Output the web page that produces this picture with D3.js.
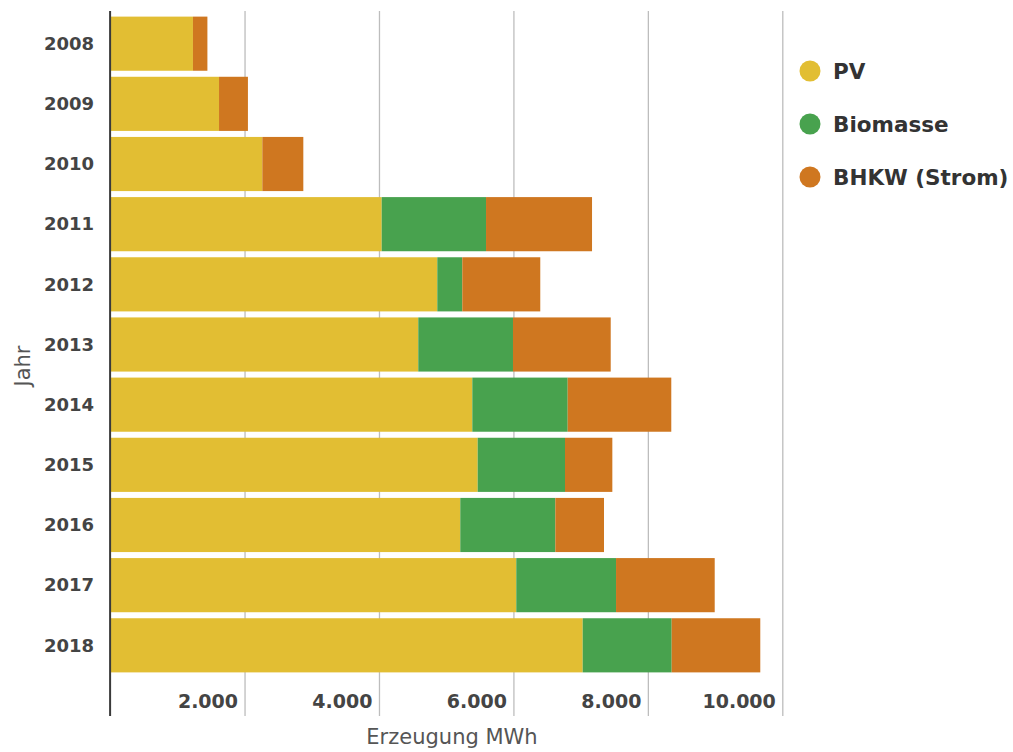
<!DOCTYPE html>
<html>
<head>
<meta charset="utf-8">
<script src="https://cdn.jsdelivr.net/npm/d3@7"></script>
<style>
  body { margin: 0; background: #fff; }
  svg { font-family: "DejaVu Sans", "Open Sans", sans-serif; }
</style>
</head>
<body>
<div id="chart"></div>
<script>
// data (MWh)
const years = ['2008', '2009', '2010', '2011', '2012', '2013', '2014', '2015', '2016', '2017', '2018'];
const pv = [1225, 1613, 2257, 4033, 4860, 4577, 5381, 5461, 5202, 6035, 7023];
const biomasse = [0, 0, 0, 1552, 372, 1409, 1419, 1299, 1414, 1484, 1324];
const bhkw = [215, 430, 610, 1577, 1160, 1454, 1541, 704, 724, 1468, 1318];
const seriesNames = ['PV', 'Biomasse', 'BHKW (Strom)'];
const xTicks = [2000, 4000, 6000, 8000, 10000];

const width = 1013, height = 752;
const colors = { 'PV': '#e2be33', 'Biomasse': '#48a24e', 'BHKW (Strom)': '#cf7720' };

const rows = years.map((y, i) => ({ year: y, 'PV': pv[i], 'Biomasse': biomasse[i], 'BHKW (Strom)': bhkw[i] }));
const stacked = d3.stack().keys(seriesNames)(rows);

const x = d3.scaleLinear().domain([0, 10000]).range([110.6, 782.8]);
const y = d3.scaleBand().domain(years).range([13.6, 675.4]).paddingInner(0.1).paddingOuter(0.05);

const de = d3.formatLocale({ decimal: ',', thousands: '.', grouping: [3], currency: ['', ' €'] });
const fmt = de.format(',d');

const svg = d3.select('#chart').append('svg')
    .attr('width', width)
    .attr('height', height);

// vertical grid lines
svg.append('g').selectAll('line')
    .data(xTicks)
    .join('line')
    .attr('x1', d => x(d)).attr('x2', d => x(d))
    .attr('y1', 11).attr('y2', 716)
    .attr('stroke', '#bdbdbd')
    .attr('stroke-width', 1.3);

// bars
svg.append('g').selectAll('g')
    .data(stacked)
    .join('g')
    .attr('fill', d => colors[d.key])
    .selectAll('rect')
    .data(d => d)
    .join('rect')
    .attr('x', d => x(d[0]))
    .attr('width', d => Math.max(0, x(d[1]) - x(d[0])))
    .attr('y', d => y(d.data.year))
    .attr('height', y.bandwidth());

// left axis line
svg.append('line')
    .attr('x1', x(0) - 0.5).attr('x2', x(0) - 0.5)
    .attr('y1', 11).attr('y2', 716)
    .attr('stroke', '#3a3a3a')
    .attr('stroke-width', 2);

// x tick labels
svg.append('g').selectAll('text')
    .data(xTicks)
    .join('text')
    .attr('x', d => x(d) - 7)
    .attr('y', 701)
    .attr('dy', '0.35em')
    .attr('text-anchor', 'end')
    .attr('font-size', 19)
    .attr('font-weight', 'bold')
    .attr('fill', '#444')
    .text(d => fmt(d));

// y labels
svg.append('g').selectAll('text')
    .data(years)
    .join('text')
    .attr('x', 94)
    .attr('y', d => y(d) + y.bandwidth() / 2)
    .attr('dy', '0.35em')
    .attr('text-anchor', 'end')
    .attr('font-size', 18)
    .attr('font-weight', 'bold')
    .attr('fill', '#444')
    .text(d => d);

// axis titles
svg.append('text')
    .attr('x', 452).attr('y', 737)
    .attr('dy', '0.35em')
    .attr('text-anchor', 'middle')
    .attr('font-size', 21)
    .attr('fill', '#555')
    .text('Erzeugung MWh');

svg.append('text')
    .attr('transform', 'translate(23,366) rotate(-90)')
    .attr('dy', '0.35em')
    .attr('text-anchor', 'middle')
    .attr('font-size', 21)
    .attr('fill', '#555')
    .text('Jahr');

// legend
const legend = svg.append('g').selectAll('g')
    .data(seriesNames)
    .join('g')
    .attr('transform', (d, i) => `translate(810,${71 + i * 53})`);
legend.append('circle')
    .attr('r', 10.5)
    .attr('fill', d => colors[d]);
legend.append('text')
    .attr('x', 23)
    .attr('dy', '0.35em')
    .attr('font-size', 21.5)
    .attr('font-weight', 'bold')
    .attr('fill', '#333')
    .text(d => d);
</script>
</body>
</html>
